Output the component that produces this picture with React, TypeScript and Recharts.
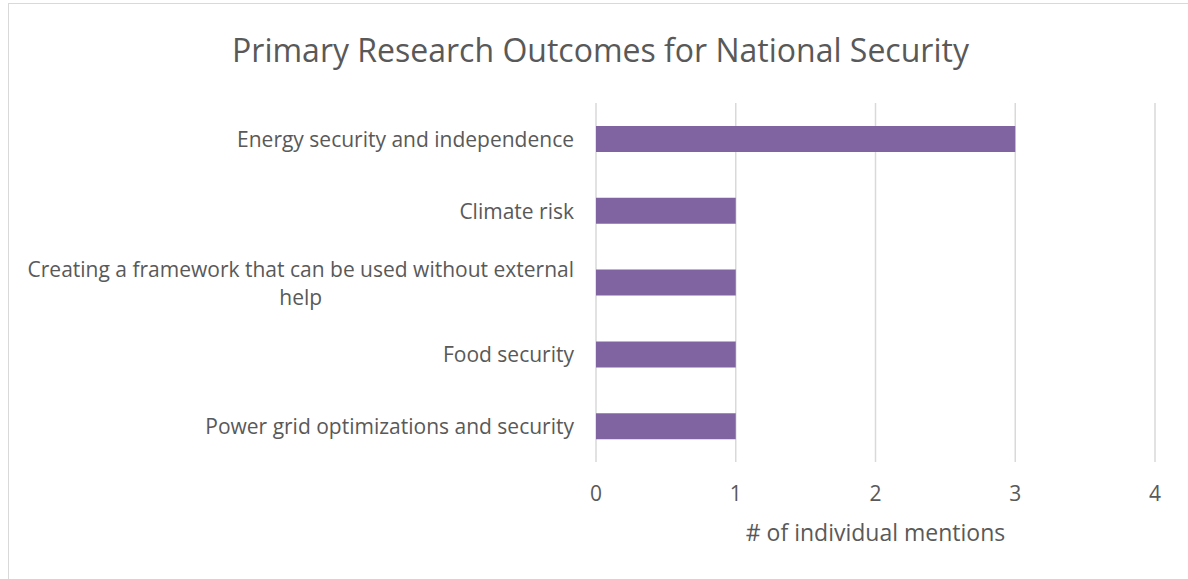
import React from "react";
import {BarChart, Bar, XAxis, YAxis, CartesianGrid} from "recharts";

const categories = [
  "Energy security and independence",
  "Climate risk",
  "Creating a framework that can be used without external help",
  "Food security",
  "Power grid optimizations and security",
];
const mentions = [3, 1, 1, 1, 1];
const xTicks = [0, 1, 2, 3, 4];

const data = categories.map((label, i) => ({label, value: mentions[i]}));

const FONT = "'Open Sans', sans-serif";
const TEXT = "#595959";
const LABEL_SIZE = 21;
const LABEL_RIGHT = 574;
const WRAP_WIDTH = 562;

let ctx: CanvasRenderingContext2D | null = null;
function measure(s: string) {
  if (!ctx) ctx = document.createElement("canvas").getContext("2d");
  if (!ctx) return s.length * LABEL_SIZE * 0.5;
  ctx.font = `${LABEL_SIZE}px 'Open Sans'`;
  return ctx.measureText(s).width;
}

function wrap(label: string) {
  const lines: string[] = [];
  let cur = "";
  for (const w of label.split(" ")) {
    const next = cur ? cur + " " + w : w;
    if (cur && measure(next) > WRAP_WIDTH) {
      lines.push(cur);
      cur = w;
    } else cur = next;
  }
  if (cur) lines.push(cur);
  return lines;
}

function CategoryTick(props: any) {
  const {y, payload} = props;
  const lines = wrap(String(payload.value));
  const block = Math.max(...lines.map(measure));
  const lineH = 28;
  const top = y - ((lines.length - 1) * lineH) / 2;
  const multi = lines.length > 1;
  return (
    <g>
      {lines.map((ln, i) => (
        <text
          key={i}
          x={multi ? LABEL_RIGHT - block / 2 : LABEL_RIGHT}
          y={top + i * lineH}
          textAnchor={multi ? "middle" : "end"}
          dominantBaseline="central"
          fontFamily={FONT}
          fontSize={LABEL_SIZE}
          fill={TEXT}>
          {ln}
        </text>
      ))}
    </g>
  );
}

function ValueTick(props: any) {
  const {x, payload} = props;
  return (
    <text
      x={x}
      y={493}
      textAnchor="middle"
      dominantBaseline="central"
      fontFamily={FONT}
      fontSize={21}
      fill={TEXT}>
      {payload.value}
    </text>
  );
}

export default function App() {
  return (
    <div
      style={{
        position: "absolute",
        left: 0,
        top: 0,
        width: 1188,
        height: 579,
        overflow: "hidden",
        background: "#fff",
      }}>
      {/* chart frame, only its top and left edges fall inside the picture */}
      <div
        style={{
          position: "absolute",
          left: 8,
          top: 3,
          width: 1220,
          height: 620,
          border: "1.5px solid #d9d9d9",
        }}
      />
      <div
        style={{
          position: "absolute",
          left: 0,
          top: 30,
          width: 1201,
          textAlign: "center",
          fontFamily: FONT,
          fontSize: 32,
          color: TEXT,
          lineHeight: "40px",
        }}>
        Primary Research Outcomes for National Security
      </div>
      <div style={{position: "absolute", left: 0, top: 0}}>
        <BarChart
          width={1188}
          height={579}
          data={data}
          layout="vertical"
          margin={{top: 103, right: 33, bottom: 0, left: 0}}>
          <CartesianGrid
            horizontal={false}
            stroke="#d9d9d9"
            strokeWidth={1.5}
          />
          <XAxis
            type="number"
            domain={[0, 4]}
            ticks={xTicks}
            axisLine={false}
            tickLine={false}
            height={117}
            tick={<ValueTick />}
            label={{
              content: (p: any) => (
                <text
                  x={p.viewBox.x + p.viewBox.width / 2}
                  y={p.viewBox.y + 70}
                  textAnchor="middle"
                  dominantBaseline="central"
                  fontFamily={FONT}
                  fontSize={23}
                  fill={TEXT}>
                  # of individual mentions
                </text>
              ),
            }}
          />
          <YAxis
            type="category"
            dataKey="label"
            width={596}
            axisLine={false}
            tickLine={false}
            interval={0}
            tick={<CategoryTick />}
          />
          <Bar
            dataKey="value"
            fill="#8064A2"
            barSize={26}
            isAnimationActive={false}
          />
        </BarChart>
      </div>
    </div>
  );
}
